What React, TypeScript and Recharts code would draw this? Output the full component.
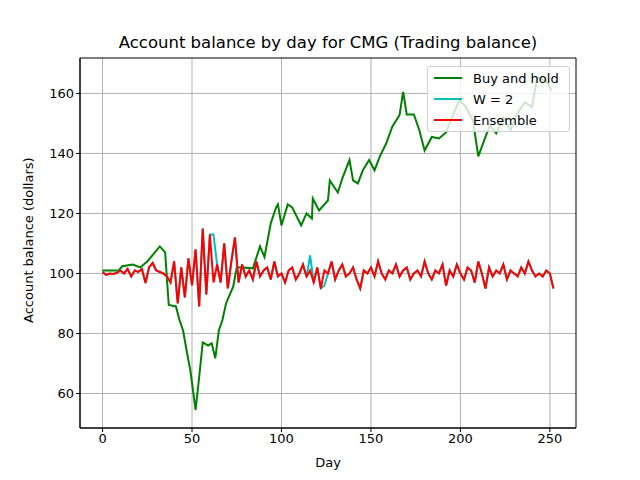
import React from "react";
import { LineChart, Line, XAxis, YAxis, CartesianGrid, ReferenceArea } from "recharts";

const holdDays = [0,9,11,17,21,25,32,35,36,37,41,43,45,48,49,52,54,56,59,61,63,65,67,69,73,75,78,84,88,90.5,94,97,98,100,103.5,106,111,114,117,117.5,121,126,127,131.5,134,138,140,142.7,145.5,149,152,155,158.5,162,166,168,170,174,177,180,184,188,192,196,199.5,203,207,210,214,216.5,220,224,228,231.5,236,240,243,248,251];
const holdValues = [101,101,102.4,103,102,104,109,107,98,89.5,89,84.5,81,71,68,54.5,65.5,77,76,76.7,71.7,81,84.5,90,95.6,102,102,101.7,109,105.5,116.7,122,123,116,123,122,116,120,118.3,125,121,124.4,131,127,131.7,137.8,131,130,134.4,137.8,134.4,139,143.3,149,152.8,160.5,153,153,147.8,141,145.5,145,147,153,157.8,155.5,151,139,145.5,149.4,146.7,152,147.8,153,157,155.5,165.5,164,161];

const ensembleValues = [100.5,99.5,100,99.8,100.2,101,100,101.5,99,101,100.5,101.5,96.8,102,103.5,101,100.5,100,
99,97,104,90,102,92,105,96,108,89,115,93,113,97,103,97,110,95,104,112,
97,103,99,101,98,104,99,101,102,98,104,99,100,97,101,102,98,100,103,99,101,97,102,95,101,100,104,98,101,103,99,100,102,98,95,101,100,102,99,104,100,98,101,100,103,99,101,102,98,100,101,99,104,100,98,101,100,103,96,101,99,103,100,98,102,101,97,104,100,95,102,99,101,100,103,98,101,100,99,102,100,104,101,99,100,99,101,100,95];
const w2OverrideDays = [8,62,116,124];
const w2OverrideValues = [100.5,113,106,96];

const xTicks = [0,50,100,150,200,250];
const yTicks = [60,80,100,120,140,160];

const holdData = holdDays.map((d, i) => ({ day: d, v: holdValues[i] }));
const ensData = ensembleValues.map((v, i) => ({ day: i * 2, v }));
const w2Data = ensData.map((p) => {
  const k = w2OverrideDays.indexOf(p.day);
  return k >= 0 ? { day: p.day, v: w2OverrideValues[k] } : p;
});

const font = "DejaVu Sans, sans-serif";

export default function App() {
  return (
    <div style={{ position: "absolute", left: 0, top: 0, width: 640, height: 480, background: "#fff", fontFamily: font }}>
      <LineChart width={640} height={480} margin={{ top: 58, right: 64, bottom: 0, left: 0 }}>
        <CartesianGrid stroke="#b0b0b0" strokeWidth={1} horizontalValues={yTicks} verticalValues={xTicks} />
        <XAxis dataKey="day" type="number" domain={[-12.6, 264.6]} ticks={xTicks} allowDuplicatedCategory={false}
          stroke="#000" tickSize={4} height={52} tick={{ fill: "#000", fontSize: 13, fontFamily: font }}
          label={{ value: "Day", position: "insideBottom", offset: 13, fill: "#000", fontSize: 13, fontFamily: font }} />
        <YAxis type="number" domain={[48.5, 171.8]} ticks={yTicks} width={80} stroke="#000" tickSize={4}
          tick={{ fill: "#000", fontSize: 13, fontFamily: font }}
          label={{ value: "Account balance (dollars)", angle: -90, position: "insideLeft", offset: 28, dy: 80, fill: "#000", fontSize: 13, fontFamily: font }} />
        <ReferenceArea x1={-12.6} x2={264.6} y1={48.5} y2={171.8} fill="none" stroke="#000" strokeWidth={1} ifOverflow="visible" />
        <Line data={holdData} dataKey="v" stroke="#008000" strokeWidth={2} dot={false} isAnimationActive={false} />
        <Line data={w2Data} dataKey="v" stroke="#00bfbf" strokeWidth={2} dot={false} isAnimationActive={false} />
        <Line data={ensData} dataKey="v" stroke="#ff0000" strokeWidth={2} dot={false} isAnimationActive={false} />
      </LineChart>
      <div style={{ position: "absolute", left: 0, width: 656, top: 33, textAlign: "center", fontSize: 16.5, color: "#000" }}>
        Account balance by day for CMG (Trading balance)
      </div>
      <div style={{ position: "absolute", left: 427, top: 66, width: 141, height: 64, background: "rgba(255,255,255,0.8)", border: "1px solid #d0d0d0", borderRadius: 3, fontSize: 13, color: "#000" }}>
        {[["Buy and hold", "#008000"], ["W = 2", "#00bfbf"], ["Ensemble", "#ff0000"]].map(([t, c], i) => (
          <div key={t} style={{ position: "absolute", left: 6, top: 2 + i * 21, display: "flex", alignItems: "center", height: 18 }}>
            <span style={{ display: "inline-block", width: 28, height: 2, background: c, marginRight: 11 }} />
            <span>{t}</span>
          </div>
        ))}
      </div>
    </div>
  );
}
